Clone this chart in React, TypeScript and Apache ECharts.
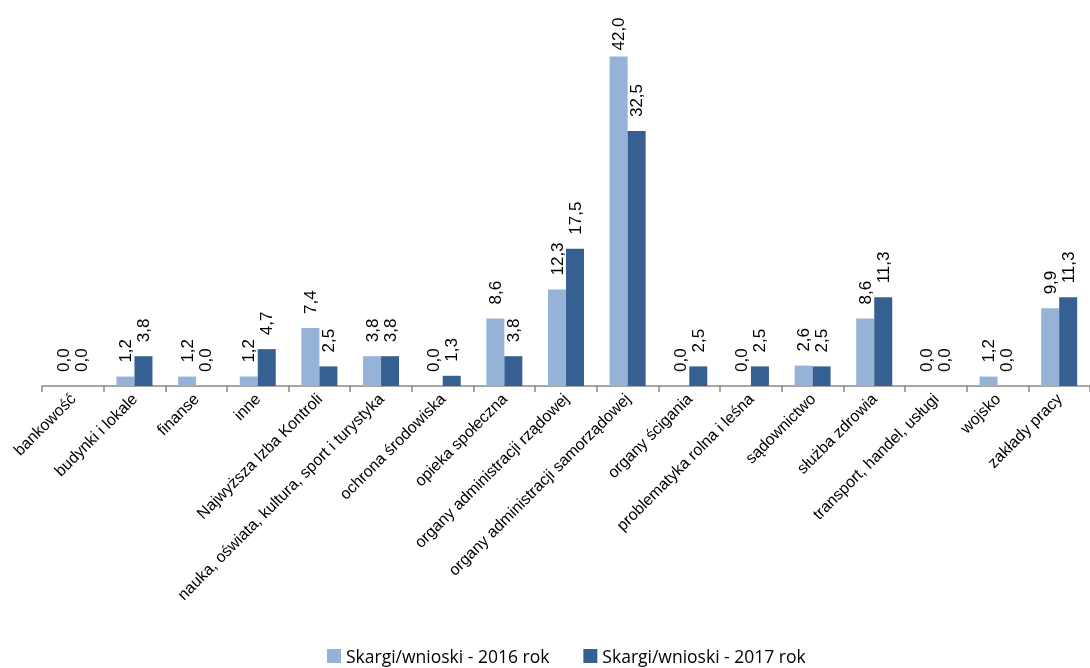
import React, { useEffect, useRef } from "react";
import * as echarts from "echarts";

const categories = [
  "bankowość",
  "budynki i lokale",
  "finanse",
  "inne",
  "Najwyższa Izba Kontroli",
  "nauka, oświata, kultura, sport i turystyka",
  "ochrona środowiska",
  "opieka społeczna",
  "organy administracji rządowej",
  "organy administracji samorządowej",
  "organy ścigania",
  "problematyka rolna i leśna",
  "sądownictwo",
  "służba zdrowia",
  "transport, handel, usługi",
  "wojsko",
  "zakłady pracy",
];

const values2016 = [0.0, 1.2, 1.2, 1.2, 7.4, 3.8, 0.0, 8.6, 12.3, 42.0, 0.0, 0.0, 2.6, 8.6, 0.0, 1.2, 9.9];
const values2017 = [0.0, 3.8, 0.0, 4.7, 2.5, 3.8, 1.3, 3.8, 17.5, 32.5, 2.5, 2.5, 2.5, 11.3, 0.0, 0.0, 11.3];

const seriesNames = ["Skargi/wnioski - 2016 rok", "Skargi/wnioski - 2017 rok"];
const colors = ["#95B3D7", "#376092"];

const fmt = (p: any) => Number(p.value).toFixed(1).replace(".", ",");

export default function App() {
  const ref = useRef<HTMLDivElement>(null);
  useEffect(() => {
    if (!ref.current) return;
    const chart = echarts.init(ref.current, undefined, { renderer: "svg" });
    const labelBase = {
      show: true,
      position: "top",
      rotate: 90,
      align: "left",
      verticalAlign: "middle",
      distance: 14,
      fontSize: 17,
      fontFamily: "Liberation Sans, Arial, sans-serif",
      color: "#000",
      formatter: fmt,
    };
    const mk = (vals: number[]) =>
      vals.map((v) => (v > 40 ? { value: v, label: { distance: 6 } } : v));
    chart.setOption({
      animation: false,
      color: colors,
      grid: { left: 42, top: 33, width: 1061, height: 353, containLabel: false },
      legend: {
        bottom: -2,
        left: 322,
        itemWidth: 14,
        itemHeight: 14,
        itemGap: 34,
        icon: "rect",
        textStyle: { fontSize: 17.5, fontFamily: "Open Sans, sans-serif", color: "#000" },
        data: seriesNames,
      },
      xAxis: {
        type: "category",
        data: categories,
        axisLine: { lineStyle: { color: "#888", width: 1.5 } },
        axisTick: { show: true, length: 6, lineStyle: { color: "#888", width: 1.5 } },
        axisLabel: {
          interval: 0,
          rotate: 45,
          fontSize: 16,
          fontFamily: "Liberation Sans, Arial, sans-serif",
          color: "#000",
          margin: 10,
        },
      },
      yAxis: { type: "value", min: 0, max: 45, show: false, splitLine: { show: false } },
      series: [
        {
          name: seriesNames[0],
          type: "bar",
          data: mk(values2016),
          barWidth: 18,
          barGap: "0%",
          label: labelBase,
        },
        {
          name: seriesNames[1],
          type: "bar",
          data: mk(values2017),
          barWidth: 18,
          barGap: "0%",
          label: labelBase,
        },
      ],
    });
    return () => chart.dispose();
  }, []);
  return (
    <div
      ref={ref}
      style={{ position: "fixed", left: 0, top: 0, width: 1090, height: 668 }}
    />
  );
}
